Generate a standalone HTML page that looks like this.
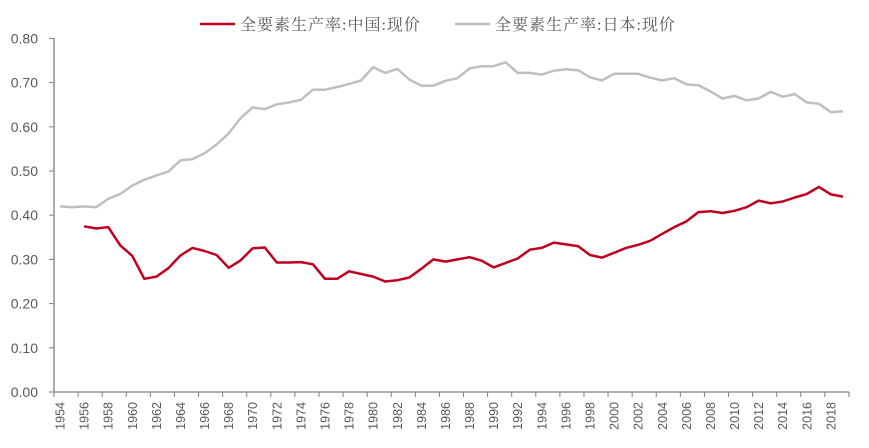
<!DOCTYPE html>
<html><head><meta charset="utf-8"><style>
body{margin:0;background:#fff}
svg text{font-family:"Liberation Sans",sans-serif;fill:#595959}
</style></head><body>
<svg id="c" width="869" height="443" xmlns="http://www.w3.org/2000/svg"></svg>
<script>
const jp=[.42,.418,.42,.418,.437,.448,.467,.48,.49,.499,.524,.527,.54,.56,.585,.62,.644,.64,.651,.655,.661,.684,.684,.69,.697,.705,.735,.722,.731,.707,.693,.693,.704,.71,.732,.737,.737,.746,.722,.722,.718,.727,.73,.728,.712,.705,.72,.72,.72,.711,.705,.71,.696,.694,.68,.664,.67,.66,.664,.679,.668,.674,.655,.652,.633,.635];
const cn=[null,null,.375,.37,.373,.332,.308,.256,.261,.28,.309,.326,.319,.31,.281,.298,.325,.327,.293,.293,.294,.289,.256,.256,.273,.267,.261,.25,.253,.259,.279,.3,.295,.3,.305,.297,.282,.292,.302,.322,.326,.338,.334,.33,.31,.304,.315,.326,.333,.342,.358,.373,.386,.407,.409,.405,.41,.418,.433,.427,.431,.44,.448,.464,.447,.442];
const X0=54,W=12.045,Y0=392,S=442;
const X=i=>X0+(i+0.5)*W, Y=v=>Y0-v*S;
let s='';
const pts=a=>a.map((v,i)=>v==null?null:X(i).toFixed(1)+','+Y(v).toFixed(1)).filter(p=>p).join(' ');
s+=`<line x1="${X0}" y1="38" x2="${X0}" y2="${Y0}" stroke="#7f7f7f" stroke-width="1.3"/>`;
s+=`<line x1="${X0}" y1="${Y0}" x2="849" y2="${Y0}" stroke="#7f7f7f" stroke-width="1.3"/>`;
for(let k=0;k<=8;k++){const y=Y(k/10);s+=`<line x1="${X0-5}" y1="${y}" x2="${X0}" y2="${y}" stroke="#7f7f7f"/>`;
s+=`<text x="38" y="${y+5}" font-size="14" text-anchor="end">${(k/10).toFixed(2)}</text>`;}
for(let i=0;i<=66;i+=2){const x=X0+i*W;s+=`<line x1="${x}" y1="${Y0}" x2="${x}" y2="${Y0+5}" stroke="#7f7f7f"/>`;
if(i<66){const cx=X(i);s+=`<text transform="translate(${cx+4.5},402) rotate(-90)" font-size="12.5" text-anchor="end">${1954+i}</text>`;}}
s+=`<line x1="849" y1="${Y0}" x2="849" y2="${Y0+5}" stroke="#7f7f7f"/>`;
s+=`<polyline points="${pts(jp)}" fill="none" stroke="#bfbfbf" stroke-width="2.5" stroke-linejoin="round"/>`;
s+=`<polyline points="${pts(cn)}" fill="none" stroke="#c00020" stroke-width="2.5" stroke-linejoin="round"/>`;
s+=`<line x1="200" y1="24" x2="235" y2="24" stroke="#c00020" stroke-width="2.5"/>`;
s+=`<text x="240" y="30" font-size="16" letter-spacing="1" style="font-family:'Liberation Serif','Noto Serif CJK SC',serif" fill="#404040">全要素生产率:中国:现价</text>`;
s+=`<line x1="455" y1="24" x2="490" y2="24" stroke="#bfbfbf" stroke-width="2.5"/>`;
s+=`<text x="495" y="30" font-size="16" letter-spacing="1" style="font-family:'Liberation Serif','Noto Serif CJK SC',serif" fill="#404040">全要素生产率:日本:现价</text>`;
document.getElementById('c').innerHTML=s;
</script>
</body></html>
